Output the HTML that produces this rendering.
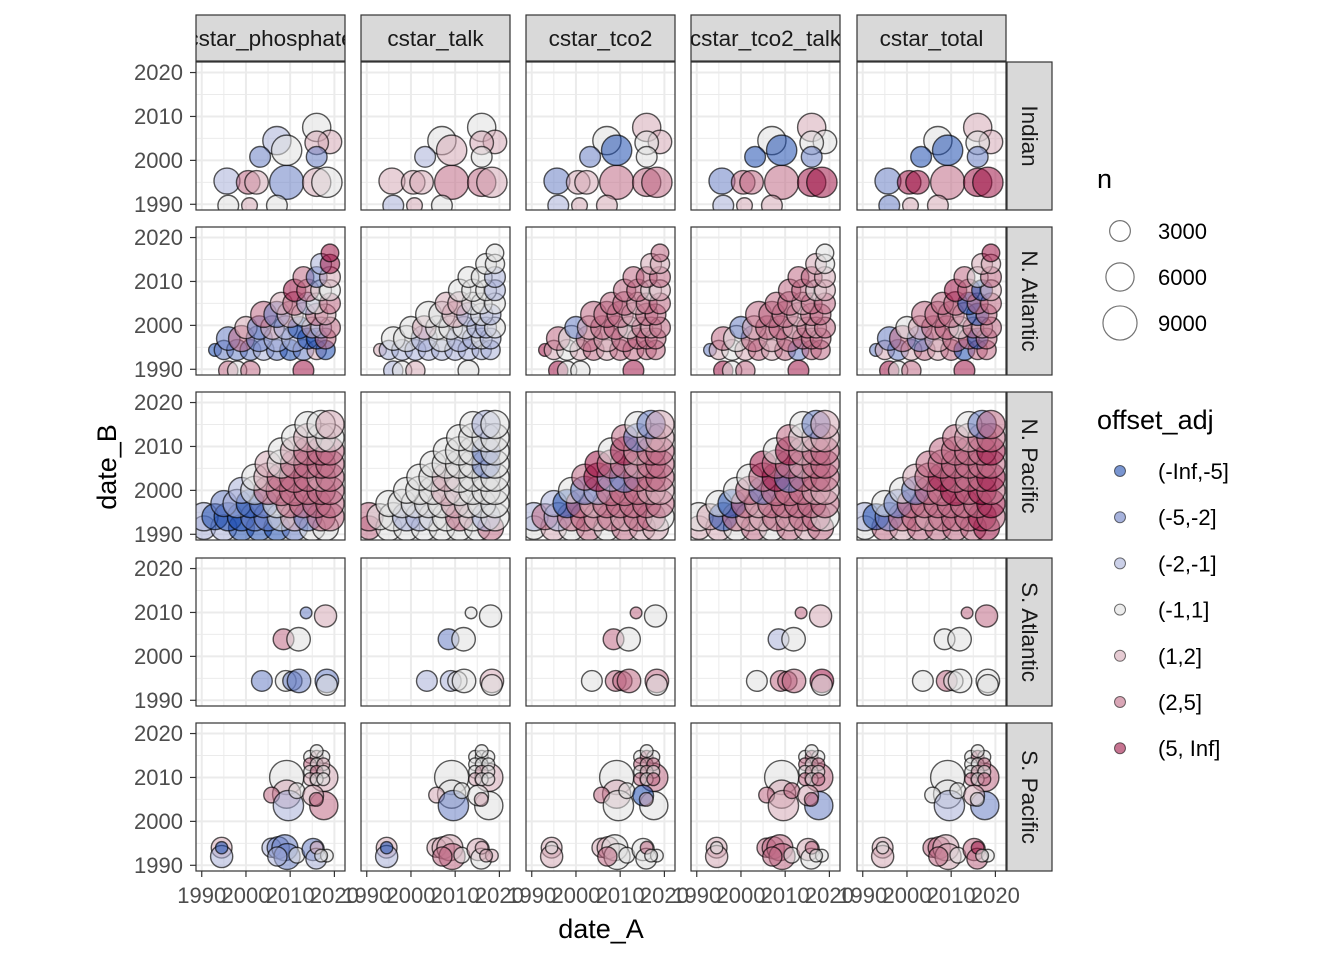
<!DOCTYPE html>
<html><head><meta charset="utf-8"><style>
html,body{margin:0;padding:0;background:#fff;}
svg{display:block;font-family:"Liberation Sans",sans-serif;}
</style></head><body>
<svg id="chart" width="1344" height="960" viewBox="0 0 1344 960"></svg>
<script>
// ---- data ----
const columns = ["cstar_phosphate","cstar_talk","cstar_tco2","cstar_tco2_talk","cstar_total"];
const regions = ["Indian","N. Atlantic","N. Pacific","S. Atlantic","S. Pacific"];
const yTicks = [1990,2000,2010,2020];
const xTicks = [1990,2000,2010,2020];
const classLabels = ["(-Inf,-5]","(-5,-2]","(-2,-1]","(-1,1]","(1,2]","(2,5]","(5, Inf]"];
const sizeBreaks = [3000,6000,9000];

const indianA = [1995.7,2000.5,2002.4,2009.2,2016,2018.3,2007,2009.2,2003.2,2016,2019,2016,2016,1996,2000.8,2007];
const indianB = [1995.3,1995,1995,1995,1995,1995,2004.5,2002.3,2000.8,2007.5,2004.2,2004,2000.8,1989.7,1989.7,1989.7];
const indianN = [5000,4000,4000,9000,6000,7000,6000,7000,3000,6000,4000,4000,3000,3000,1500,3000];
const indianCls = ["2541432313441343","4445543423443243","1445553014433244","1555663004331244","1665663004431144"];

const natlA = [1993,1995,1998,2001,2004,2007,2010,2013,2016,2018, 1996,1999,2003,2007,2011,2014,2016,2018, 2000,2003,2006,2009,2012,2015,2017,2019, 2004,2007,2010,2013,2016,2018, 2008,2011,2014,2016,2019, 2011,2014,2017,2019, 2013,2016,2019, 2017,2019, 2019, 1996,1998,2001,2013];
const natlB = [1994.4,1994.4,1994.4,1994.4,1994.4,1994.4,1994.4,1994.4,1994.4,1994.4, 1997,1997,1997,1997,1997,1997,1997,1997, 1999.5,1999.5,1999.5,1999.5,1999.5,1999.5,1999.5,1999.5, 2002.5,2002.5,2002.5,2002.5,2002.5,2002.5, 2005,2005,2005,2005,2005, 2008,2008,2008,2008, 2011,2011,2011, 2014,2014, 2016.5, 1989.7,1989.7,1989.7,1989.7];
const natlN = [800,2500,3000,3000,3000,3000,3000,3000,2500,2500, 4000,5000,5000,5000,5000,3000,3000,3000, 3500,4000,4000,4000,3500,3000,3000,3000, 5000,5000,5000,4000,3500,3000, 3500,4000,3500,3000,3000, 3500,3500,3000,3000, 3000,3000,3000, 3000,2500, 2000, 2500,2500,2500,3000];
const natlCls = [
 "0111210140"+"15122005"+"41420425"+"514354"+"45235"+"6533"+"514"+"26"+"6"+"5356",
 "4222222222"+"33232232"+"34333223"+"334232"+"44333"+"3332"+"332"+"33"+"3"+"2343",
 "6434545555"+"53545555"+"14553545"+"555455"+"55455"+"5534"+"555"+"44"+"5"+"6336",
 "1434545155"+"53545555"+"14554545"+"555455"+"55455"+"5534"+"554"+"43"+"3"+"6356",
 "1414545055"+"15145505"+"34553545"+"555405"+"55055"+"6504"+"535"+"44"+"6"+"6356"];

const npacA = [1990.5,1995,1999,2003,2007,2011,2015,2018, 1990.5,1993,1996,1999,2002,2005,2008,2011,2014,2017,2019, 1995,1998,2001,2004,2007,2010,2013,2016,2019, 1999,2002,2005,2008,2011,2014,2017,2019, 2002,2005,2008,2011,2014,2017,2019, 2005,2008,2011,2014,2017,2019, 2008,2011,2014,2017,2019, 2011,2014,2017,2019, 2014,2017,2019];
const npacB = [1991.5,1991.5,1991.5,1991.5,1991.5,1991.5,1991.5,1991.5, 1994,1994,1994,1994,1994,1994,1994,1994,1994,1994,1994, 1997,1997,1997,1997,1997,1997,1997,1997,1997, 2000,2000,2000,2000,2000,2000,2000,2000, 2003,2003,2003,2003,2003,2003,2003, 2006,2006,2006,2006,2006,2006, 2009,2009,2009,2009,2009, 2012,2012,2012,2012, 2015,2015,2015];
const npacN = [4000,5000,5000,5000,5000,5000,5000,5000, 6000,5000,6000,6000,6000,6000,6000,6000,6000,6000,6000, 5000,6000,6000,6000,6000,6000,6000,6000,6000, 5000,6000,6000,7000,7000,6000,6000,6000, 5000,6000,6000,7000,6000,6000,6000, 5000,6000,6000,6000,6000,6000, 5000,6000,6000,6000,6000, 5000,6000,6000,6000, 5000,6000,6000];
const npacCls = [
 "22000133"+"20001134155"+"120135555"+"23555555"+"3455545"+"435555"+"34555"+"3433"+"334",
 "53333335"+"53322335323"+"333334333"+"33343333"+"3343333"+"333313"+"33313"+"3333"+"323",
 "34353544"+"25255454553"+"205455555"+"31255544"+"5621555"+"655455"+"36455"+"5144"+"314",
 "44353545"+"34054454553"+"305455555"+"35155544"+"3561555"+"655455"+"36455"+"5344"+"314",
 "35455556"+"20155455565"+"315555556"+"31556565"+"4565556"+"555555"+"55556"+"5455"+"315"];

const satlA = [2013.6,2018,2008.5,2011.9,2003.6,2009,2010.5,2012,2018.3,2018.3];
const satlB = [2009.9,2009.2,2003.9,2003.9,1994.4,1994.4,1994.4,1994.4,1994.4,1993.5];
const satlN = [600,3500,3000,4000,3000,3000,2500,4000,4000,3000];
const satlCls = ["1453131113","3313223343","5353355553","5423355563","5533353333"];

const spacA = [1994.5,1994.5,1994.5,2005.8,2007.3,2008.8,2009.3,2007.1,2011.5,2015.2,2015.9,2016,2018.3,2017, 2009.2,2009.2,2005.8,2009.6,2017.6,2017.6,2011.5,2015.2,2015.9, 2014.5,2016,2017.5,2014.5,2016,2017.5,2014.5,2016,2017.5,2014.5,2016,2017.5, 2016];
const spacB = [1994,1992,1994,1994,1994,1994,1992,1992,1992.3,1993.6,1991.5,1994,1992.2,1992.2, 2010,2006.2,2006,2003.6,2010,2003.6,2007,2005.9,2005, 2014.7,2014.7,2014.7,2013,2013,2013,2011.3,2011.3,2011.3,2009.6,2009.6,2009.6, 2016];
const spacN = [3000,3500,700,2500,3500,5000,5000,2500,1500,3500,3000,800,800,800, 9000,6000,1500,7000,6000,6000,1500,3000,1000, 800,800,800,800,800,800,800,800,800,800,800,800, 800];
const spacCls = [
 "42021112312433"+"345245345"+"343534353433"+"3",
 "42044455343444"+"334143334"+"333333343433"+"3",
 "44344335333533"+"345353304"+"353545343535"+"3",
 "44355555343533"+"345451545"+"353535343535"+"3",
 "44355445355633"+"333251343"+"353335343535"+"3"];

const regionData = [
 {A:indianA,B:indianB,N:indianN,C:indianCls},
 {A:natlA,B:natlB,N:natlN,C:natlCls},
 {A:npacA,B:npacB,N:npacN,C:npacCls},
 {A:satlA,B:satlB,N:satlN,C:satlCls},
 {A:spacA,B:spacB,N:spacN,C:spacCls}];

// ---- layout ----
const palette = ["#1f4fb0","#6a7fc4","#a9b1d8","#e0e0e0","#d6a9b6","#c06a85","#a01848"];
const colX = [196,361,526,691,857], rowY = [62,227,392,558,723];
const PW = 149, PH = 148, lo = 1988.7, hi = 2022.4;
const NS = "http://www.w3.org/2000/svg";
const svg = document.getElementById("chart");
function el(tag, attrs, parent){const e=document.createElementNS(NS,tag);for(const k in attrs)e.setAttribute(k,attrs[k]);(parent||svg).appendChild(e);return e;}
function xs(c,v){return colX[c]+(v-lo)/(hi-lo)*PW;}
function ys(r,v){return rowY[r]+PH-(v-lo)/(hi-lo)*PH;}
function rad(n){return Math.sqrt(16+0.0305*n);}

const defs = el("defs",{});
for(let r=0;r<5;r++){
 for(let c=0;c<5;c++){
  const cp = el("clipPath",{id:"cp"+r+"_"+c},defs);
  el("rect",{x:colX[c],y:rowY[r],width:PW,height:PH},cp);
  const g = el("g",{});
  
  
  el("rect",{x:colX[c],y:rowY[r],width:PW,height:PH,fill:"#fff"},g);
  const inner = el("g",{"clip-path":"url(#cp"+r+"_"+c+")"},g);
  for(let v=1985;v<=2025;v+=5){
   const major = v%10===0;
   el("line",{x1:xs(c,v),x2:xs(c,v),y1:rowY[r],y2:rowY[r]+PH,stroke:"#ebebeb","stroke-width":major?2:1},inner);
   el("line",{x1:colX[c],x2:colX[c]+PW,y1:ys(r,v),y2:ys(r,v),stroke:"#ebebeb","stroke-width":major?2:1},inner);
  }
  const d = regionData[r], cls = d.C[c];
  for(let i=0;i<d.A.length;i++){
   const k = parseInt(cls[i]||"3");
   const pt = el("circle",{cx:xs(c,d.A[i]),cy:ys(r,d.B[i]),r:rad(d.N[i]),fill:palette[k],"fill-opacity":0.55,stroke:"#000","stroke-opacity":0.65,"stroke-width":1.4},inner);
   
   
  }
  el("rect",{x:colX[c],y:rowY[r],width:PW,height:PH,fill:"none",stroke:"#333","stroke-width":1.2},g);
 }
}
// top strips
for(let c=0;c<5;c++){
 const cp = el("clipPath",{id:"sc"+c},defs);
 el("rect",{x:colX[c],y:15,width:PW,height:46},cp);
 const s = el("rect",{x:colX[c],y:15,width:PW,height:46,fill:"#d9d9d9",stroke:"#333","stroke-width":1.2});
 
 
 const t = el("text",{x:colX[c]+PW/2,y:46,"text-anchor":"middle","font-size":22.5,fill:"#1a1a1a","clip-path":"url(#sc"+c+")"});
 t.textContent = columns[c];
 
 
}
// right strips
for(let r=0;r<5;r++){
 const s = el("rect",{x:1007,y:rowY[r],width:45,height:PH,fill:"#d9d9d9",stroke:"#333","stroke-width":1.2});
 
 
 const cy = rowY[r]+PH/2;
 const t = el("text",{x:1022,y:cy,"text-anchor":"middle","font-size":22.5,fill:"#1a1a1a",transform:"rotate(90 1022 "+cy+")"});
 t.textContent = regions[r];
 
 
}
// y axes
for(let r=0;r<5;r++){
 for(const v of yTicks){
  const y = ys(r,v);
  el("line",{x1:190,x2:196,y1:y,y2:y,stroke:"#333","stroke-width":1.2});
  const t = el("text",{x:183,y:y+7.5,"text-anchor":"end","font-size":22,fill:"#4d4d4d"});
  t.textContent = v;
  
  
 }
}
// x axes
for(let c=0;c<5;c++){
 for(const v of xTicks){
  const x = xs(c,v);
  el("line",{x1:x,x2:x,y1:871,y2:877,stroke:"#333","stroke-width":1.2});
  const t = el("text",{x:x,y:903,"text-anchor":"middle","font-size":22,fill:"#4d4d4d"});
  t.textContent = v;
  
  
 }
}
// axis titles
let t = el("text",{x:601,y:938,"text-anchor":"middle","font-size":27,fill:"#000"});
t.textContent = "date_A";


t = el("text",{x:116,y:467,"text-anchor":"middle","font-size":27,fill:"#000",transform:"rotate(-90 116 467)"});
t.textContent = "date_B";


// size legend
t = el("text",{x:1097,y:188,"font-size":27,fill:"#000"});
t.textContent = "n";


sizeBreaks.forEach((v,i)=>{
 const y = 231+i*46;
 const c = el("circle",{cx:1120,cy:y,r:rad(v),fill:"none",stroke:"#000","stroke-opacity":0.55,"stroke-width":1.2});
 
 
 const tt = el("text",{x:1158,y:y+8,"font-size":22,fill:"#000"});
 tt.textContent = v;
 
 
});
// colour legend
t = el("text",{x:1097,y:429,"font-size":27,fill:"#000"});
t.textContent = "offset_adj";


classLabels.forEach((lab,i)=>{
 const y = 471+i*46.2;
 const c = el("circle",{cx:1120,cy:y,r:5.5,fill:palette[i],"fill-opacity":0.6,stroke:"#000","stroke-opacity":0.55,"stroke-width":1});
 
 
 const tt = el("text",{x:1158,y:y+8,"font-size":22,fill:"#000"});
 tt.textContent = lab;
 
 
});
</script>
</body></html>
